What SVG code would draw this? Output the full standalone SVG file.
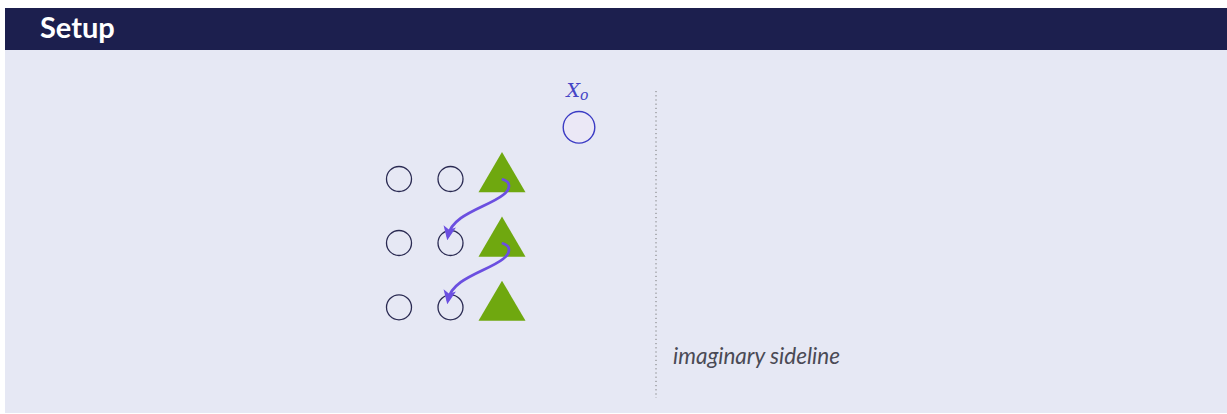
<svg xmlns="http://www.w3.org/2000/svg" width="1227" height="414" viewBox="0 0 1227 414">
<defs>
<style>
.pl{fill:none;stroke:#2a2a52;stroke-width:1.3}
.tri{fill:#6fa80f}
.arr{fill:none;stroke:#6b4fe0;stroke-width:2.8;stroke-linecap:round}
</style>
<marker id="ah" viewBox="0 0 10 10" refX="7" refY="5" markerWidth="5" markerHeight="5" orient="auto" markerUnits="strokeWidth">
<path d="M0,0.5 L10,5 L0,9.5 L2.5,5 Z" fill="#6b4fe0"/>
</marker>
</defs>
<rect x="0" y="0" width="1227" height="414" fill="#ffffff"/>
<rect x="5" y="50" width="1222" height="363" fill="#e6e8f4"/>
<rect x="5" y="8" width="1222" height="42" fill="#1c1f4e"/>
<text x="40" y="37.5" font-family="Lato, 'Liberation Sans', sans-serif" font-weight="bold" font-size="29" fill="#ffffff">Setup</text>
<g id="p11"><circle class="pl" cx="399" cy="179" r="12.5"/></g>
<g id="p12"><circle class="pl" cx="450.5" cy="179" r="12.5"/></g>
<g id="t1"><polygon class="tri" points="502,152 478.5,192.3 525.5,192.3"/></g>
<g id="p21"><circle class="pl" cx="399" cy="243" r="12.5"/></g>
<g id="p22"><circle class="pl" cx="450.5" cy="243" r="12.5"/></g>
<g id="t2"><polygon class="tri" points="502,216.5 478.5,256.7 525.5,256.7"/></g>
<g id="p31"><circle class="pl" cx="399" cy="307.3" r="12.5"/></g>
<g id="p32"><circle class="pl" cx="450.5" cy="307.3" r="12.5"/></g>
<g id="t3"><polygon class="tri" points="502,280.7 478.5,320.7 525.5,320.7"/></g>
<g id="xo">
<circle cx="579" cy="127.3" r="15.8" fill="#ebe8f6" stroke="#3b3bc4" stroke-width="1.4"/>
<text x="566.5" y="97" font-family="'DejaVu Serif', 'Liberation Serif', serif" font-style="italic" font-size="19" fill="#4545c6">X<tspan font-size="14" dy="3">o</tspan></text>
</g>
<g id="sideline">
<line x1="656" y1="91" x2="656" y2="398" stroke="#777" stroke-width="1" stroke-dasharray="1.2,3"/>
<text x="673" y="363.5" font-family="Lato, 'Liberation Sans', sans-serif" font-style="italic" font-size="22.5" fill="#4a4a55">imaginary sideline</text>
</g>
<g id="connectors">
<path class="arr" marker-end="url(#ah)" d="M503,179.5 C511,182 511,189 503,195 C488,207 452,214 448,236"/>
<path class="arr" marker-end="url(#ah)" d="M503,243.5 C511,246 511,253 503,259 C488,271 452,278 448,300"/>
</g>
</svg>
